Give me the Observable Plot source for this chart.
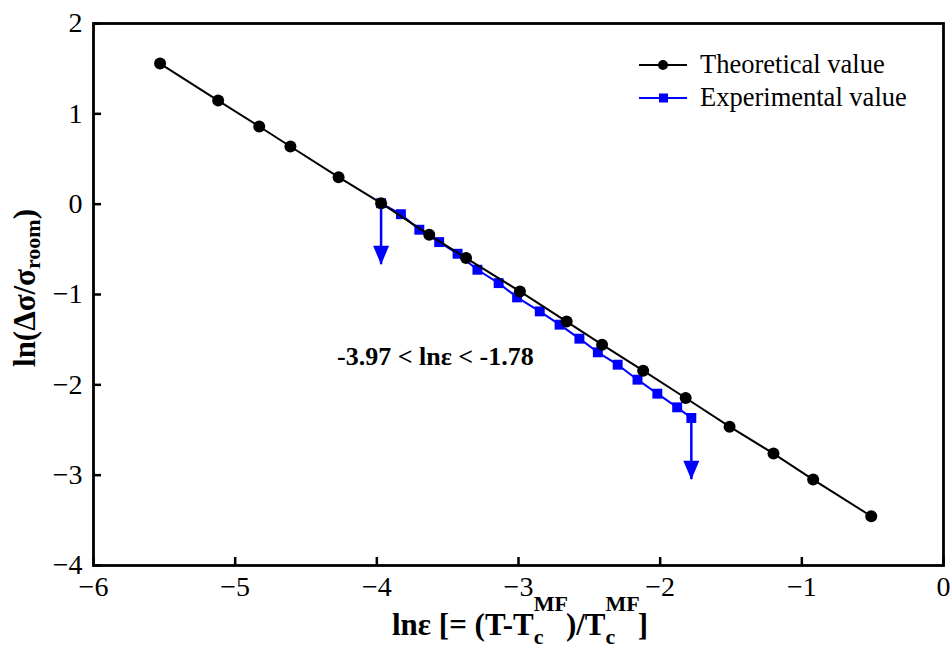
<!DOCTYPE html>
<html><head><meta charset="utf-8">
<script src="https://cdn.jsdelivr.net/npm/d3@7"></script>
<script src="https://cdn.jsdelivr.net/npm/@observablehq/plot@0.6"></script>
<style>body{margin:0;background:#fff}</style>
</head><body><div id="chart"></div>
<script>
// Theoretical values (black circles)
const theoX = [-5.53,-5.12,-4.83,-4.61,-4.27,-3.97,-3.63,-3.37,-2.99,-2.66,-2.41,-2.12,-1.82,-1.51,-1.20,-0.92,-0.51];
const theoY = [1.556,1.147,0.86,0.638,0.299,0.011,-0.339,-0.597,-0.966,-1.30,-1.555,-1.843,-2.146,-2.463,-2.761,-3.049,-3.455];
// Experimental values (blue squares)
const expX = [-3.97,-3.83,-3.70,-3.56,-3.43,-3.29,-3.14,-3.01,-2.85,-2.71,-2.57,-2.44,-2.30,-2.16,-2.02,-1.88,-1.78];
const expY = [0.01,-0.111,-0.283,-0.420,-0.549,-0.726,-0.874,-1.032,-1.187,-1.334,-1.489,-1.640,-1.777,-1.943,-2.098,-2.249,-2.367];
// Range arrows
const arrowX = [-3.97, -1.78];
const arrowFrom = [0.01, -2.367];
const arrowTo = [-0.67, -3.05];
// Ticks
const xTicks = [-6,-5,-4,-3,-2,-1,0];
const yTicks = [-4,-3,-2,-1,0,1,2];
const seriesNames = ["Theoretical value", "Experimental value"];
const rangeLabel = "-3.97 < lnε < -1.78";

const theo = theoX.map((x,i)=>({x, y: theoY[i]}));
const exp = expX.map((x,i)=>({x, y: expY[i]}));
const arrows = arrowX.map((x,i)=>({x, y1: arrowFrom[i], y2: arrowTo[i]}));

const FONT = "Liberation Serif";
const fmt = d => d < 0 ? "\u2212" + Math.abs(d) : String(d);
const arrowHead = {draw(ctx){ ctx.moveTo(-8,-19); ctx.lineTo(8,-19); ctx.lineTo(0,0); ctx.closePath(); }};

const plot = Plot.plot({
  width: 952, height: 648,
  marginLeft: 93, marginRight: 9, marginTop: 23, marginBottom: 83,
  x: {domain: [-6, 0]},
  y: {domain: [-4, 2]},
  style: {fontFamily: FONT, color: "black", background: "white", overflow: "visible"},
  marks: [
    Plot.axisX(xTicks, {tickSize: -8, tickPadding: 19, strokeWidth: 2.5, fontSize: 28, fontFamily: FONT, tickFormat: fmt, label: null}),
    Plot.axisY(yTicks, {tickSize: -8, tickPadding: 19, strokeWidth: 2.5, fontSize: 28, fontFamily: FONT, tickFormat: fmt, label: null}),
    Plot.ruleX(arrows, {x: "x", y1: "y1", y2: "y2", stroke: "#0000ff", strokeWidth: 2.5}),
    Plot.dot(arrows, {x: "x", y: "y2", symbol: arrowHead, fill: "#0000ff", stroke: "none", r: 1}),
    Plot.line(exp, {x: "x", y: "y", stroke: "#0000ff", strokeWidth: 2}),
    Plot.dot(exp, {x: "x", y: "y", symbol: "square", r: 5.6, fill: "#0000ff", stroke: "none"}),
    Plot.line(theo, {x: "x", y: "y", stroke: "black", strokeWidth: 2}),
    Plot.dot(theo, {x: "x", y: "y", symbol: "circle", r: 6, fill: "black", stroke: "none"}),
    Plot.frame({stroke: "black", strokeWidth: 2.8})
  ]
});
document.getElementById("chart").append(plot);

const svg = d3.select(plot);
svg.attr("font-family", FONT).style("font-family", FONT);
svg.selectAll("text").attr("font-family", FONT);
// Legend
const leg = svg.append("g").attr("font-family", FONT).attr("font-size", 26.5).attr("text-anchor", "start");
[[65, "black", "circle"], [98, "#0000ff", "square"]].forEach(([y, c, s], i) => {
  leg.append("line").attr("x1", 639).attr("x2", 687).attr("y1", y).attr("y2", y).attr("stroke", c).attr("stroke-width", 2.2);
  if (s === "circle") leg.append("circle").attr("cx", 663).attr("cy", y).attr("r", 5).attr("fill", c);
  else leg.append("rect").attr("x", 659).attr("y", y - 4.5).attr("width", 9).attr("height", 9).attr("fill", c);
  leg.append("text").attr("x", 700).attr("y", y + 7.5).attr("fill", "black").text(seriesNames[i]);
});
// Range annotation
svg.append("text").attr("x", 337).attr("y", 365).attr("text-anchor", "start").attr("font-family", FONT).attr("font-weight", "bold")
  .attr("font-size", 26).attr("fill", "black").text(rangeLabel);
// Y label
const yl = svg.append("text").attr("transform", "translate(35,288) rotate(-90)").attr("text-anchor", "middle")
  .attr("font-family", FONT).attr("font-weight", "bold").attr("font-size", 31).attr("fill", "black");
yl.append("tspan").text("ln(Δσ/σ");
yl.append("tspan").attr("font-size", 22).attr("dy", 5).text("room");
yl.append("tspan").attr("dy", -5).text(")");
// X label
const xl = svg.append("text").attr("x", 520).attr("y", 635).attr("text-anchor", "middle")
  .attr("font-family", FONT).attr("font-weight", "bold").attr("font-size", 31).attr("fill", "black");
xl.append("tspan").text("lnε [= (T-T");
xl.append("tspan").attr("font-size", 22).attr("dy", 9).text("c");
xl.append("tspan").attr("font-size", 22).attr("dx", -9.8).attr("dy", -33).text("MF");
xl.append("tspan").attr("dx", -2).attr("dy", 24).text(")/T");
xl.append("tspan").attr("font-size", 22).attr("dy", 9).text("c");
xl.append("tspan").attr("font-size", 22).attr("dx", -9.8).attr("dy", -33).text("MF");
xl.append("tspan").attr("dx", -2).attr("dy", 24).text("]");
</script>
</body></html>
